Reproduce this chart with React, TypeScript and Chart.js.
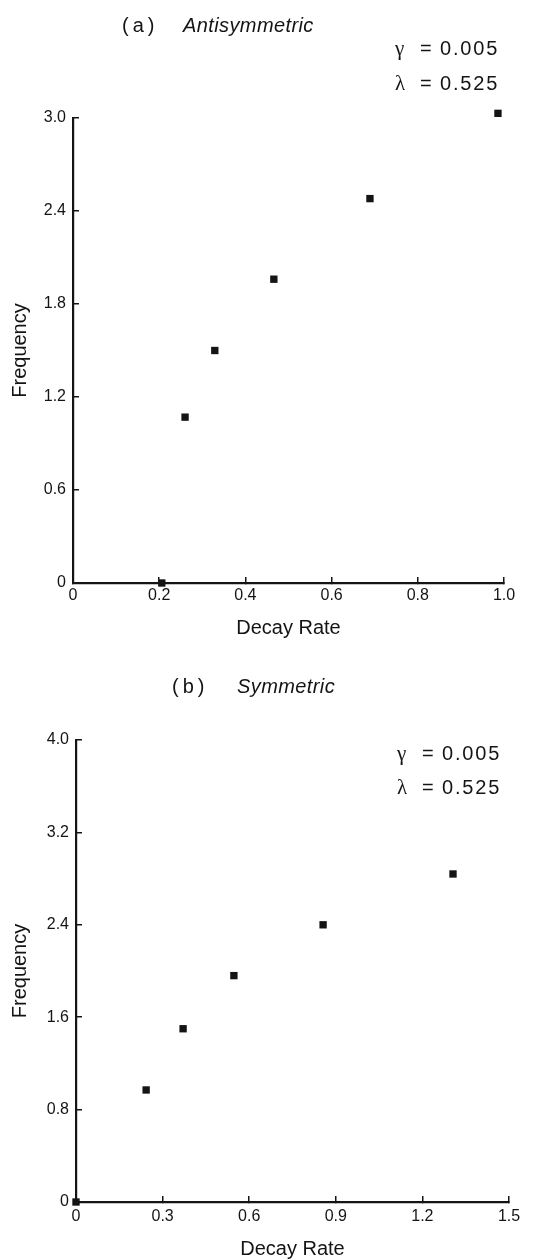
import React, { useEffect, useRef } from "react";
import { Chart, registerables } from "chart.js";

Chart.register(...registerables);

const FONT = "'Liberation Sans', Arial, Helvetica, sans-serif";
const SERIF = "'Liberation Serif', 'DejaVu Serif', serif";
const INK = "#141414";

// Panel (a) Antisymmetric
const antiDecayRate = [0.206, 0.26, 0.329, 0.466, 0.689, 0.986];
const antiFrequency = [0, 1.07, 1.5, 1.96, 2.48, 3.03];
const antiXTicks = [0, 0.2, 0.4, 0.6, 0.8, 1.0];
const antiYTicks = [0, 0.6, 1.2, 1.8, 2.4, 3.0];

// Panel (b) Symmetric
const symDecayRate = [0, 0.243, 0.371, 0.547, 0.856, 1.306];
const symFrequency = [0, 0.97, 1.5, 1.96, 2.4, 2.84];
const symXTicks = [0, 0.3, 0.6, 0.9, 1.2, 1.5];
const symYTicks = [0, 0.8, 1.6, 2.4, 3.2, 4.0];

const paramSymbols = ["γ", "λ"];
const paramValues = ["0.005", "0.525"];

const xAxisTitle = "Decay Rate";
const yAxisTitle = "Frequency";

type PanelProps = {
  decay: number[];
  freq: number[];
  xTicks: number[];
  yTicks: number[];
  tag: string;
  name: string;
  top: number;
  height: number;
  left: number;
  right: number;
  areaTop: number;
  areaBottom: number;
  tagX: number;
  nameX: number;
  titleBaseline: number;
  paramX: number;
  paramBaselines: number[];
  xLabelPad: number;
  xTitlePad: number;
};

function Panel(p: PanelProps) {
  const ref = useRef<HTMLCanvasElement>(null);
  useEffect(() => {
    if (!ref.current) return;
    const W = 548;
    const H = p.height;
    const fmt = (v: number) => (v === 0 ? "0" : v.toFixed(1));
    const textPlugin = {
      id: "panelText",
      afterDraw(chart: any) {
        const ctx = chart.ctx as CanvasRenderingContext2D & { letterSpacing?: string };
        ctx.save();
        ctx.fillStyle = INK;
        ctx.textBaseline = "alphabetic";
        ctx.textAlign = "left";
        ctx.font = `20px ${FONT}`;
        ctx.letterSpacing = "4px";
        ctx.fillText(p.tag, p.tagX, p.titleBaseline);
        ctx.letterSpacing = "0.4px";
        ctx.font = `italic 20px ${FONT}`;
        ctx.fillText(p.name, p.nameX, p.titleBaseline);
        paramSymbols.forEach((s, i) => {
          const y = p.paramBaselines[i];
          ctx.letterSpacing = "0px";
          ctx.font = `21px ${SERIF}`;
          ctx.fillText(s, p.paramX, y);
          ctx.font = `20px ${FONT}`;
          ctx.fillText("=", p.paramX + 25, y);
          ctx.letterSpacing = "1.8px";
          ctx.fillText(paramValues[i], p.paramX + 45, y);
        });
        ctx.restore();
      },
    };

    const chart = new Chart(ref.current, {
      type: "scatter",
      data: {
        datasets: [
          {
            data: p.decay.map((x, i) => ({ x, y: p.freq[i] })),
            pointStyle: "rect",
            pointRadius: 5.2,
            pointHoverRadius: 8,
            backgroundColor: INK,
            borderColor: INK,
            borderWidth: 0,
            clip: false as any,
          },
        ],
      },
      options: {
        responsive: false,
        animation: false,
        devicePixelRatio: 1,
        events: [],
        layout: { padding: { left: 0, top: p.areaTop, right: W - p.right, bottom: 0 } },
        plugins: {
          legend: { display: false },
          tooltip: { enabled: false },
          title: { display: false },
        },
        scales: {
          x: {
            type: "linear",
            min: p.xTicks[0],
            max: p.xTicks[p.xTicks.length - 1],
            afterBuildTicks: (s: any) => {
              s.ticks = p.xTicks.map((v) => ({ value: v }));
            },
            afterFit: (s: any) => {
              s.height = H - p.areaBottom;
            },
            border: { display: true, color: INK, width: 2.2 },
            grid: {
              display: true,
              drawOnChartArea: false,
              drawTicks: true,
              tickLength: -6,
              color: INK,
              lineWidth: 1.5,
            },
            ticks: {
              color: INK,
              font: { family: FONT, size: 16 },
              padding: p.xLabelPad,
              maxRotation: 0,
              autoSkip: false,
              callback: (v: any) => fmt(Number(v)),
            },
            title: {
              display: true,
              text: xAxisTitle,
              color: INK,
              font: { family: FONT, size: 20 },
              padding: { top: 0, bottom: p.xTitlePad },
            },
          },
          y: {
            type: "linear",
            min: p.yTicks[0],
            max: p.yTicks[p.yTicks.length - 1],
            afterBuildTicks: (s: any) => {
              s.ticks = p.yTicks.map((v) => ({ value: v }));
            },
            afterFit: (s: any) => {
              s.width = p.left;
            },
            border: { display: true, color: INK, width: 2.2 },
            grid: {
              display: true,
              drawOnChartArea: false,
              drawTicks: true,
              tickLength: -6,
              color: INK,
              lineWidth: 1.5,
            },
            ticks: {
              color: INK,
              font: { family: FONT, size: 16 },
              padding: 13,
              autoSkip: false,
              callback: (v: any) => fmt(Number(v)),
            },
            title: {
              display: true,
              text: yAxisTitle,
              color: INK,
              font: { family: FONT, size: 20 },
              padding: { top: 8, bottom: 0 },
            },
          },
        },
      } as any,
      plugins: [textPlugin],
    });
    return () => chart.destroy();
  }, []);

  return (
    <div style={{ position: "absolute", left: 0, top: p.top, width: 548, height: p.height }}>
      <canvas
        ref={ref}
        width={548}
        height={p.height}
        style={{ display: "block", width: 548, height: p.height }}
      />
    </div>
  );
}

export default function App() {
  return (
    <div style={{ position: "absolute", left: 0, top: 0, width: 548, height: 1259, background: "#fff" }}>
      <Panel
        decay={antiDecayRate}
        freq={antiFrequency}
        xTicks={antiXTicks}
        yTicks={antiYTicks}
        tag="(a)"
        name="Antisymmetric"
        top={0}
        height={640}
        left={73}
        right={504}
        areaTop={118}
        areaBottom={583}
        tagX={122}
        nameX={183}
        titleBaseline={32}
        paramX={395}
        paramBaselines={[55, 90]}
        xLabelPad={9}
        xTitlePad={0}
      />
      <Panel
        decay={symDecayRate}
        freq={symFrequency}
        xTicks={symXTicks}
        yTicks={symYTicks}
        tag="(b)"
        name="Symmetric"
        top={640}
        height={619}
        left={76}
        right={509}
        areaTop={100}
        areaBottom={562}
        tagX={172}
        nameX={237}
        titleBaseline={53}
        paramX={397}
        paramBaselines={[120, 154]}
        xLabelPad={11}
        xTitlePad={-2}
      />
    </div>
  );
}
